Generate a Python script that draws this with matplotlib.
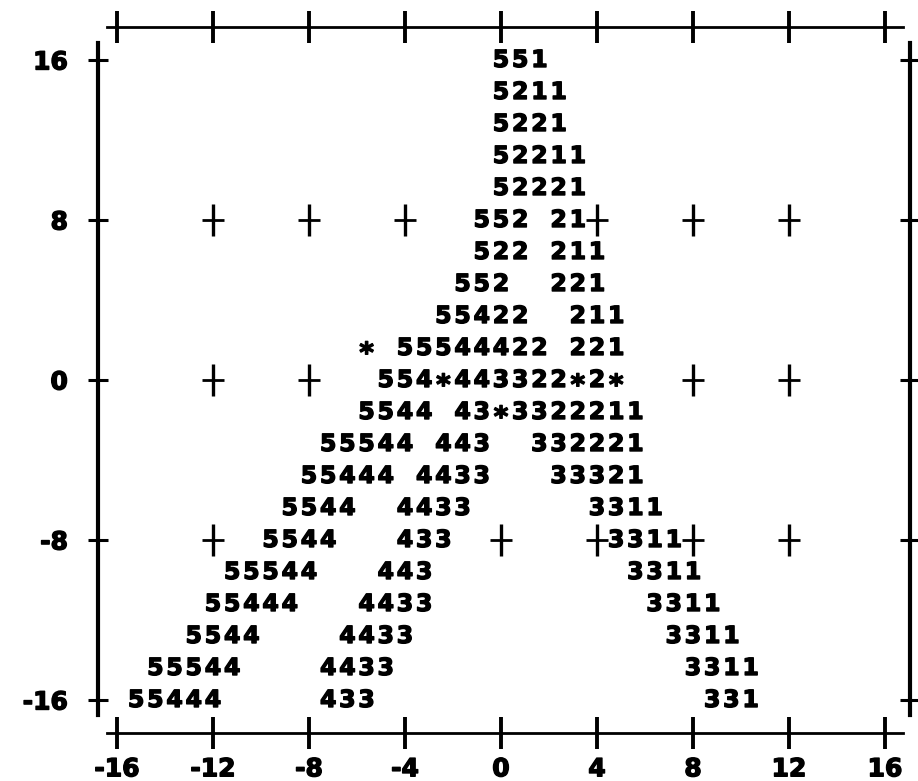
import matplotlib.pyplot as plt
import matplotlib.patheffects as pe
import numpy as np

plt.rcParams['font.family'] = 'DejaVu Sans'
plt.rcParams['font.weight'] = 'bold'
plt.rcParams['axes.unicode_minus'] = False

# printer-style character plot: one line of symbols per row
row_y = [16.0, 14.4, 12.8, 11.2, 9.6, 8.0, 6.4, 4.8, 3.2, 1.6, 0.0,
         -1.6, -3.2, -4.8, -6.4, -8.0, -9.6, -11.2, -12.8, -14.4, -16.0]
row_x0 = [0.0, 0.0, 0.0, 0.0, 0.0, -0.8, -0.8, -1.6, -2.4, -5.6, -4.8,
          -5.6, -7.2, -8.0, -8.8, -9.6, -11.2, -12.0, -12.8, -14.4, -15.2]
row_text = [
    "551",
    "5211",
    "5221",
    "52211",
    "52221",
    "552 21",
    "522 211",
    "552  221",
    "55422  211",
    "* 55544422 221",
    "554*443322*2*",
    "5544 43*3322211",
    "55544 443  332221",
    "55444 4433   33321",
    "5544  4433      3311",
    "5544   433        3311",
    "55544   443          3311",
    "55444   4433           3311",
    "5544    4433             3311",
    "55544    4433               3311",
    "55444     433                 331",
]
cell_w = 0.8

x_ticks = [-16, -12, -8, -4, 0, 4, 8, 12, 16]
y_ticks = [-16, -8, 0, 8, 16]
grid_x = [-12, -8, -4, 0, 4, 8, 12]
grid_y = [8, 0, -8]

heavy = [pe.withStroke(linewidth=1.0, foreground='black')]

fig = plt.figure(figsize=(9.18, 7.81), dpi=100)
ax = fig.add_axes([0, 0, 1, 1])
ax.set_xlim(-20.875, 17.375)
ax.set_ylim(-20.05, 19.0)

# symbols ('*' glyph sits high in the font, so drop it a little)
for y, x0, s in zip(row_y, row_x0, row_text):
    for j, ch in enumerate(s):
        if ch == ' ':
            continue
        star = ch == '*'
        ax.text(x0 + j * cell_w, y - 0.3 if star else y, ch,
                ha='center', va='center', fontsize=20 if star else 17,
                fontweight='bold', color='black', path_effects=heavy)

# interior grid crosses, skipped where a symbol is printed
gx_pts, gy_pts = [], []
for gy in grid_y:
    i = int(np.argmin(np.abs(np.array(row_y) - gy)))
    s, x0 = row_text[i], row_x0[i]
    for gx in grid_x:
        j = int(round((gx - x0) / cell_w))
        if 0 <= j < len(s) and s[j] != ' ':
            continue
        gx_pts.append(gx)
        gy_pts.append(gy)
ax.plot(gx_pts, gy_pts, ls='none', marker='|', ms=23, mew=2.4, color='black')
ax.plot(gx_pts, gy_pts, ls='none', marker='_', ms=16, mew=2.0, color='black')

# frame: four separate lines with crossing ticks
ax.spines['left'].set_position(('data', -16.8))
ax.spines['right'].set_position(('data', 17.04))
ax.spines['top'].set_position(('data', 17.65))
ax.spines['bottom'].set_position(('data', -17.65))
for side in ['left', 'right']:
    ax.spines[side].set_bounds(-16.75, 16.85)
    ax.spines[side].set_linewidth(3.0)
for side in ['top', 'bottom']:
    ax.spines[side].set_bounds(-16.4, 16.75)
    ax.spines[side].set_linewidth(2.0)

ax.set_xticks(x_ticks)
ax.set_yticks(y_ticks)
ax.tick_params(axis='x', direction='inout', length=23, width=2.8,
               top=True, bottom=True, labeltop=False, labelbottom=True,
               pad=6, labelsize=18)
ax.tick_params(axis='y', direction='inout', length=15, width=2.2,
               left=True, right=True, labelleft=True, labelright=False,
               pad=14, labelsize=18)
for lab in ax.get_xticklabels() + ax.get_yticklabels():
    lab.set_fontweight('bold')
    lab.set_path_effects(heavy)

fig.savefig('out.png', dpi=100)
